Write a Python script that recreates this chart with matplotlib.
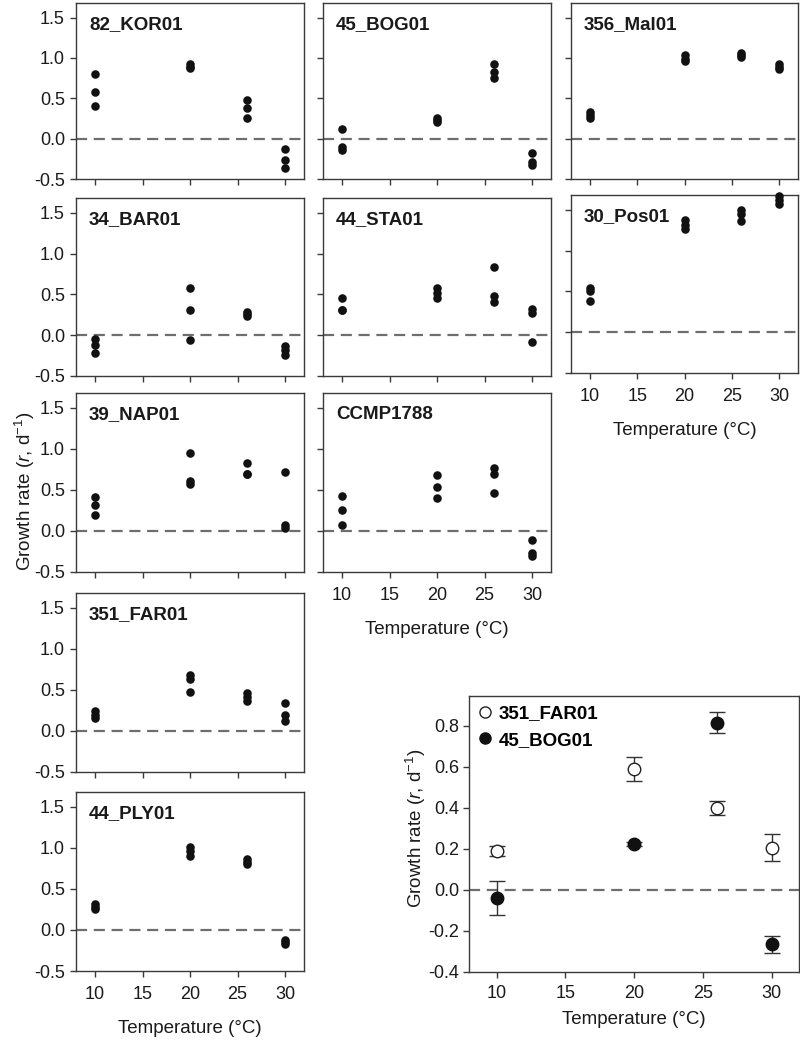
import numpy as np
import matplotlib
matplotlib.use("Agg")
import matplotlib.pyplot as plt
from matplotlib.lines import Line2D

plt.rcParams['font.family'] = ['Liberation Sans', 'DejaVu Sans']
plt.rcParams['mathtext.fontset'] = 'custom'
plt.rcParams['mathtext.rm'] = 'Liberation Sans'
plt.rcParams['mathtext.it'] = 'Liberation Sans:italic'
plt.rcParams['axes.unicode_minus'] = False

# temperatures (degC) and growth rates (r, 1/d), three replicates each
temps = [10, 20, 26, 30]

kor01 = [[0.80, 0.58, 0.40], [0.92, 0.89, 0.87], [0.48, 0.38, 0.26], [-0.13, -0.27, -0.36]]
bog01 = [[0.12, -0.10, -0.14], [0.25, 0.23, 0.21], [0.92, 0.82, 0.75], [-0.18, -0.29, -0.33]]
mal01 = [[0.33, 0.29, 0.25], [1.03, 0.99, 0.96], [1.06, 1.03, 1.01], [0.93, 0.89, 0.86]]
bar01 = [[-0.05, -0.12, -0.22], [0.58, 0.31, -0.06], [0.28, 0.26, 0.24], [-0.13, -0.18, -0.24]]
sta01 = [[0.45, 0.31, 0.31], [0.58, 0.52, 0.46], [0.83, 0.48, 0.41], [0.32, 0.27, -0.08]]
pos01 = [[0.54, 0.50, 0.38], [1.37, 1.31, 1.26], [1.50, 1.45, 1.36], [1.67, 1.62, 1.57]]
nap01 = [[0.41, 0.31, 0.19], [0.95, 0.61, 0.57], [0.83, 0.69, 0.69], [0.72, 0.07, 0.03]]
ccmp1788 = [[0.42, 0.26, 0.07], [0.68, 0.54, 0.40], [0.77, 0.69, 0.46], [-0.11, -0.27, -0.30]]
far01 = [[0.24, 0.20, 0.16], [0.68, 0.63, 0.48], [0.46, 0.41, 0.36], [0.34, 0.19, 0.12]]
ply01 = [[0.31, 0.28, 0.25], [1.01, 0.96, 0.90], [0.86, 0.83, 0.80], [-0.12, -0.15, -0.17]]

# means +- sd for the comparison panel
far01_mean = [0.19, 0.59, 0.40, 0.205]
far01_err = [0.026, 0.06, 0.033, 0.066]
bog01_mean = [-0.04, 0.225, 0.815, -0.265]
bog01_err = [0.083, 0.01, 0.052, 0.042]

W, H = 800, 1040
fig = plt.figure(figsize=(W / 100, H / 100), dpi=100)

def box(x0, y0, x1, y1):
    return [x0 / W, 1 - y1 / H, (x1 - x0) / W, (y1 - y0) / H]

cols = [(76, 304), (323, 551), (571, 798)]
rows = [(3, 179), (198, 376), (393, 572), (593, 772), (792, 971)]

# name, data, col, row, show y labels, show x labels
panels = [
    ('82_KOR01', kor01, 0, 0, True, False),
    ('45_BOG01', bog01, 1, 0, False, False),
    ('356_Mal01', mal01, 2, 0, False, False),
    ('34_BAR01', bar01, 0, 1, True, False),
    ('44_STA01', sta01, 1, 1, False, False),
    ('30_Pos01', pos01, 2, 1, False, True),
    ('39_NAP01', nap01, 0, 2, True, False),
    ('CCMP1788', ccmp1788, 1, 2, False, True),
    ('351_FAR01', far01, 0, 3, True, False),
    ('44_PLY01', ply01, 0, 4, True, True),
]

spine_col = '#3a3a3a'
txt_col = '#1a1a1a'
dash_col = '#6e6e6e'

for name, data, c, r, ylab, xlab in panels:
    y0, y1 = rows[r]
    if name == '30_Pos01':
        y0, y1 = 195, 373
    ax = fig.add_axes(box(cols[c][0], y0, cols[c][1], y1))
    for t, vals in zip(temps, data):
        ax.scatter([t] * len(vals), vals, s=38, color='#111111', zorder=3,
                   clip_on=False, linewidths=0)
    ax.axhline(0, color=dash_col, lw=1.6, dashes=(5, 3), zorder=2)
    ax.set_xlim(8, 32)
    ax.set_ylim(-0.5, 1.68)
    ax.set_xticks([10, 15, 20, 25, 30])
    ax.set_yticks([-0.5, 0.0, 0.5, 1.0, 1.5])
    ax.yaxis.set_major_formatter(matplotlib.ticker.FormatStrFormatter('%.1f'))
    ax.tick_params(direction='out', length=4, width=1, color=spine_col,
                   labelsize=13, labelcolor=txt_col)
    ax.tick_params(axis='y', pad=4)
    ax.tick_params(axis='x', pad=7)
    if not ylab:
        ax.tick_params(axis='y', labelleft=False)
    if xlab:
        ax.set_xlabel('Temperature (\u00b0C)', fontsize=13.5, color=txt_col, labelpad=12)
    else:
        ax.tick_params(axis='x', labelbottom=False)
    for s in ax.spines.values():
        s.set_color(spine_col)
        s.set_linewidth(1.0)
    ax.text(0.057, 0.88, name, transform=ax.transAxes, fontsize=13.5,
            fontweight='bold', color=txt_col, va='center', ha='left')

fig.text(25 / W, 1 - 491 / H, 'Growth rate ($\\it{r}$, d$^{-1}$)', rotation=90,
         ha='center', va='center', fontsize=13.5, color=txt_col)

# comparison panel
ax = fig.add_axes(box(469, 696, 799, 972))
ax.errorbar(temps, far01_mean, yerr=far01_err, fmt='o', ms=9, mfc='white',
            mec='#222222', mew=1.0, ecolor='#333333', elinewidth=1.0,
            capsize=6, capthick=1.0, zorder=3)
ax.errorbar(temps, bog01_mean, yerr=bog01_err, fmt='o', ms=9, mfc='#111111',
            mec='#111111', mew=1.0, ecolor='#333333', elinewidth=1.0,
            capsize=6, capthick=1.0, zorder=4)
ax.axhline(0, color=dash_col, lw=1.6, dashes=(5, 3), zorder=2)
ax.set_xlim(8, 32)
ax.set_ylim(-0.4, 0.945)
ax.set_xticks([10, 15, 20, 25, 30])
ax.set_yticks([-0.4, -0.2, 0.0, 0.2, 0.4, 0.6, 0.8])
ax.yaxis.set_major_formatter(matplotlib.ticker.FormatStrFormatter('%.1f'))
ax.tick_params(direction='out', length=4, width=1, color=spine_col,
               labelsize=13, labelcolor=txt_col)
ax.tick_params(axis='y', pad=3)
ax.tick_params(axis='x', pad=5)
ax.set_xlabel('Temperature (\u00b0C)', fontsize=13.5, color=txt_col, labelpad=7)
for s in ax.spines.values():
    s.set_color(spine_col)
    s.set_linewidth(1.0)
handles = [
    Line2D([], [], ls='none', marker='o', ms=8, mfc='white', mec='#222222', mew=1.0),
    Line2D([], [], ls='none', marker='o', ms=8, mfc='#111111', mec='#111111'),
]
ax.legend(handles, ['351_FAR01', '45_BOG01'], loc='upper left', frameon=False,
          prop={'weight': 'bold', 'size': 13.5}, handlelength=0.7,
          handletextpad=0.4, labelspacing=0.5, borderaxespad=0.15,
          borderpad=0.35)

fig.text(416 / W, 1 - 828 / H, 'Growth rate ($\\it{r}$, d$^{-1}$)', rotation=90,
         ha='center', va='center', fontsize=13.5, color=txt_col)

plt.savefig('out.png', dpi=100)
